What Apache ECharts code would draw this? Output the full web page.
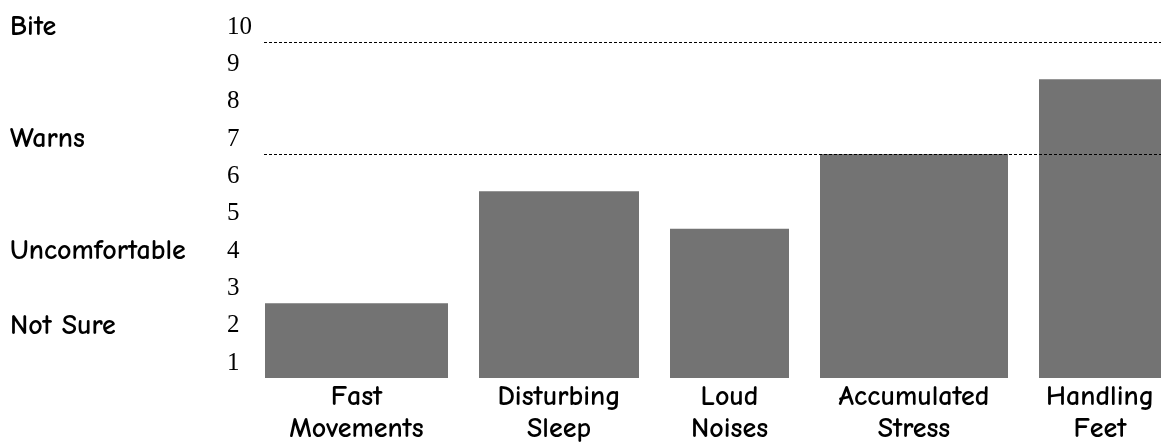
<!DOCTYPE html>
<html>
<head>
<meta charset="utf-8">
<script src="https://cdn.jsdelivr.net/npm/echarts@6/dist/echarts.min.js"></script>
<style>
html,body{margin:0;padding:0;background:#fff;}
#chart{width:1161px;height:448px;}
</style>
</head>
<body>
<div id="chart"></div>
<script>
// ---- data ----
const categories = ['Fast Movements', 'Disturbing Sleep', 'Loud Noises', 'Accumulated Stress', 'Handling Feet'];
const values = [3, 6, 5, 7, 9];
const levelValues = [10, 7, 4, 2];
const levelNames = ['Bite', 'Warns', 'Uncomfortable', 'Not Sure'];
const thresholdValues = [10, 7];
const yTicks = [1, 2, 3, 4, 5, 6, 7, 8, 9, 10];

// ---- style / layout ----
const BAR_WIDTHS = [183, 160, 119, 188, 122];
const BAR_GAP = 31;
const BAR_COLOR = '#737373';
const COMIC = '"Comic Sans MS", "Comic Neue", "Noto Sans", "DejaVu Sans", sans-serif';
const SERIF = '"Liberation Serif", "Times New Roman", "DejaVu Serif", serif';

const chart = echarts.init(document.getElementById('chart'), null, {renderer: 'canvas'});

const option = {
  backgroundColor: '#fff',
  animation: false,
  grid: {left: 264, right: 0, top: 42, bottom: 70, containLabel: false},
  xAxis: {
    type: 'category',
    data: categories,
    show: false
  },
  yAxis: [
    {
      type: 'value', min: 1, max: 10, interval: 1,
      axisLine: {show: false}, axisTick: {show: false}, splitLine: {show: false},
      axisLabel: {
        show: true, align: 'left', margin: 37,
        fontFamily: SERIF, fontSize: 25, color: '#000',
        verticalAlign: 'bottom', lineHeight: 30,
        formatter: v => yTicks.includes(v) ? String(v) : ''
      }
    },
    {
      type: 'value', min: 1, max: 10, interval: 1, position: 'left',
      axisLine: {show: false}, axisTick: {show: false}, splitLine: {show: false},
      axisLabel: {
        show: true, align: 'left', margin: 254,
        fontFamily: COMIC, fontSize: 28, fontWeight: 'bold', color: '#000',
        verticalAlign: 'bottom', lineHeight: 30,
        formatter: v => {
          const i = levelValues.indexOf(v);
          return i >= 0 ? levelNames[i] : '';
        }
      }
    }
  ],
  series: [
    {
      type: 'custom',
      clip: false,
      data: values.map((v, i) => [i, v]),
      renderItem: function (params, api) {
        const i = api.value(0);
        const v = api.value(1);
        const cs = params.coordSys;
        let x = cs.x + 1;
        for (let k = 0; k < i; k++) x += BAR_WIDTHS[k] + BAR_GAP;
        const top = api.coord([i, v])[1];
        const base = api.coord([i, 1])[1];
        const w = BAR_WIDTHS[i];
        return {
          type: 'group',
          children: [
            {type: 'rect', shape: {x: x, y: top, width: w, height: base - top},
             style: {fill: BAR_COLOR}},
            {type: 'text', style: {
              text: categories[i].replace(' ', '\n'),
              x: x + w / 2, y: base + 3,
              align: 'center', verticalAlign: 'top',
              font: 'bold 28px ' + COMIC, lineHeight: 32, fill: '#000'
            }}
          ]
        };
      },
      markLine: {
        symbol: 'none', silent: true, label: {show: false},
        lineStyle: {color: '#000', type: [3, 2], width: 1},
        data: thresholdValues.map(t => ({yAxis: t}))
      },
      z: 2
    }
  ]
};
chart.setOption(option);
</script>
</body>
</html>
